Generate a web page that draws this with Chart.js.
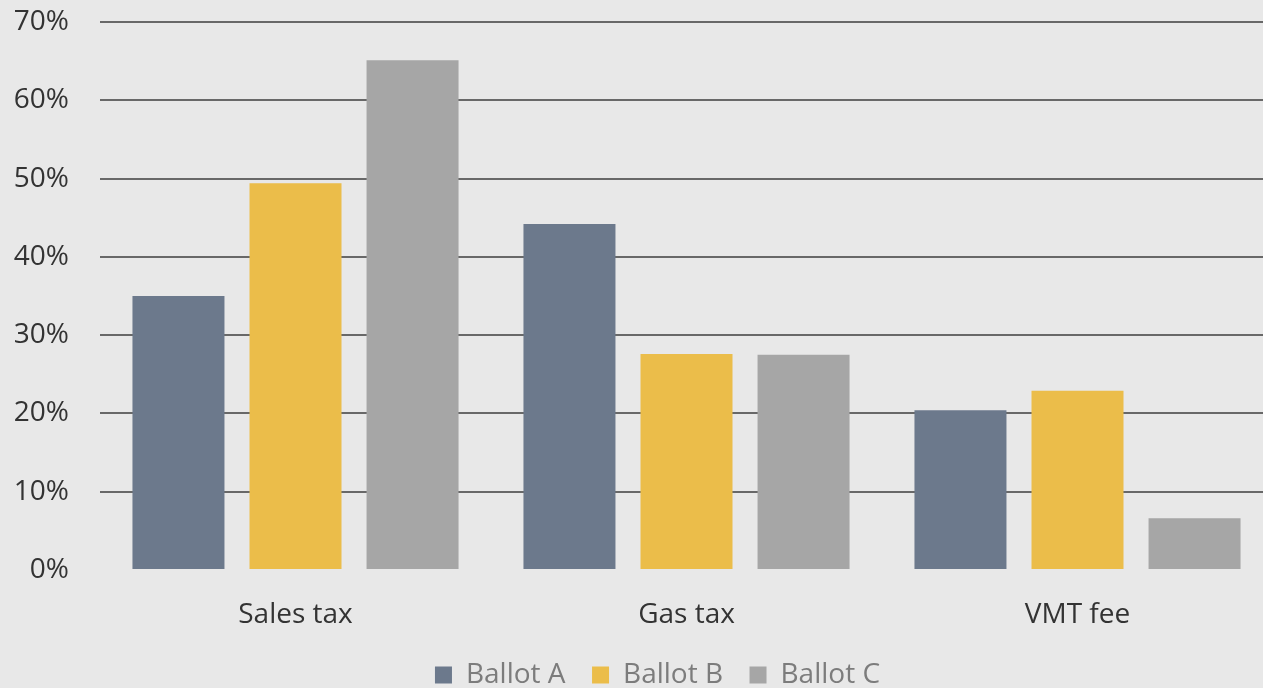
<!DOCTYPE html>
<html>
<head>
<meta charset="utf-8">
<script src="https://cdn.jsdelivr.net/npm/chart.js@4/dist/chart.umd.min.js"></script>
<style>
  html, body { margin: 0; padding: 0; background: #e8e8e8; overflow: hidden; }
  #wrap { width: 1273px; height: 688px; }
</style>
</head>
<body>
<div id="wrap"><canvas id="chart"></canvas></div>
<script>
const categories = ['Sales tax', 'Gas tax', 'VMT fee']
const ballotA = [35.0, 44.2, 20.4]
const ballotB = [49.4, 27.6, 22.9]
const ballotC = [65.1, 27.5, 6.6]
const yTicks = [0, 10, 20, 30, 40, 50, 60, 70]

const font = '"Open Sans", "Noto Sans", sans-serif'

function series(label, data, color) {
  return {
    label: label,
    data: data,
    backgroundColor: color,
    borderWidth: 0,
    barPercentage: 0.786,
    categoryPercentage: 0.898
  }
}

// legend sits a little right of the canvas centre
const legendShift = {
  id: 'legendShift',
  afterLayout(chart) {
    chart.legend.left += 21
    chart.legend.right += 21
  }
}

new Chart(document.getElementById('chart'), {
  type: 'bar',
  data: {
    labels: categories,
    datasets: [
      series('Ballot A', ballotA, '#6c798c'),
      series('Ballot B', ballotB, '#ebbd4a'),
      series('Ballot C', ballotC, '#a6a6a6')
    ]
  },
  plugins: [legendShift],
  options: {
    responsive: true,
    maintainAspectRatio: false,
    animation: false,
    layout: { padding: { top: 22, left: 0, right: 0, bottom: -11 } },
    plugins: {
      tooltip: { enabled: false },
      legend: {
        position: 'bottom',
        labels: {
          font: { family: font, size: 28 },
          color: '#7c7c7c',
          boxWidth: 17,
          boxHeight: 17,
          padding: 26.5
        }
      }
    },
    scales: {
      x: {
        grid: { display: false, drawTicks: false },
        border: { display: false },
        ticks: {
          font: { family: font, size: 28 },
          color: '#333333',
          padding: 28
        },
        afterFit: scale => { scale.height = 64.5 }
      },
      y: {
        min: 0,
        max: 70,
        afterBuildTicks: scale => { scale.ticks = yTicks.map(v => ({ value: v })) },
        grid: {
          drawTicks: false,
          lineWidth: 2,
          color: ctx => ctx.tick && ctx.tick.value === 0 ? 'rgba(0,0,0,0)' : '#686868'
        },
        border: { display: false },
        ticks: {
          font: { family: font, size: 28 },
          color: '#333333',
          padding: 31,
          callback: v => v + '%'
        },
        afterFit: scale => {
          scale.width = 100
          scale.paddingTop = 0
          scale.paddingBottom = 0
        }
      }
    }
  }
})
</script>
</body>
</html>
